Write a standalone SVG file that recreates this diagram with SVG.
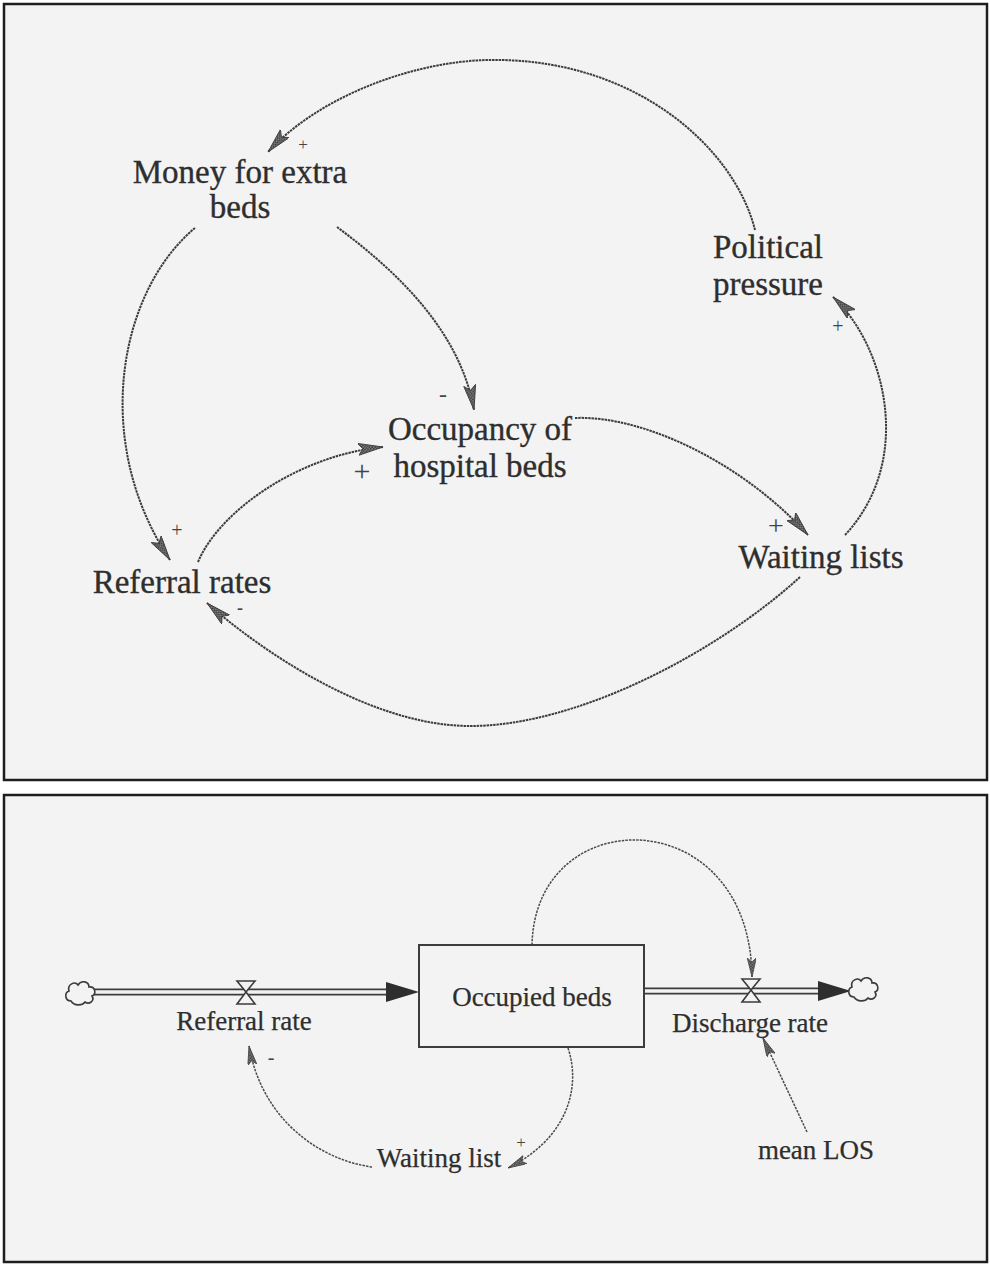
<svg xmlns="http://www.w3.org/2000/svg" width="990" height="1264" viewBox="0 0 990 1264">
  <style>
    .panel { fill: #f3f3f3; stroke: #1e1e1e; stroke-width: 2.5; }
    .lbl { font-family: "Liberation Serif", "Times New Roman", serif; fill: #2e2e2e; stroke: #2e2e2e; stroke-width: 0.35; text-anchor: middle; }
    .big { font-size: 33px; }
    .small { font-size: 27px; stroke-width: 0.25; }
    .sign { font-family: "Liberation Serif", "Times New Roman", serif; fill: #444; text-anchor: middle; }
    .link { fill: none; stroke: #3c3c3c; stroke-width: 2; stroke-dasharray: 2.5 0.8; }
    .link-thin { fill: none; stroke: #4a4a4a; stroke-width: 1.5; stroke-dasharray: 2.5 1.1; }
    .pipe-out { fill: none; stroke: #3c3c3c; stroke-width: 7; }
    .pipe-in { fill: none; stroke: #f3f3f3; stroke-width: 3.4; }
    .valve { fill: #f3f3f3; stroke: #3c3c3c; stroke-width: 1.6; }
    .cloud { fill: #f3f3f3; stroke: #3c3c3c; stroke-width: 1.6; }
    .stock { fill: #f3f3f3; stroke: #3c3c3c; stroke-width: 2; }
  </style>
  <defs>
    <pattern id="hatch" width="3" height="3" patternUnits="userSpaceOnUse">
      <rect width="3" height="3" fill="#8a8a8a"/>
      <rect width="1.5" height="1.5" fill="#333"/>
      <rect x="1.5" y="1.5" width="1.5" height="1.5" fill="#333"/>
    </pattern>
    <!-- causal-link arrowhead -->
    <marker id="tip" markerUnits="userSpaceOnUse" markerWidth="28" markerHeight="14" refX="25" refY="6" orient="auto">
      <path d="M0,0 L25,6 L0,12 L5,6 z" fill="url(#hatch)" stroke="#3c3c3c" stroke-width="0.9"/>
    </marker>
    <marker id="tipS" markerUnits="userSpaceOnUse" markerWidth="22" markerHeight="11" refX="19" refY="4.5" orient="auto">
      <path d="M0,0 L19,4.5 L0,9 L4,4.5 z" fill="url(#hatch)" stroke="#444" stroke-width="0.8"/>
    </marker>
    <!-- source / sink cloud -->
    <path id="cloudShape" d="M-10,8 C-16,8 -17,0 -12,-2 C-14,-9 -6,-12 -3,-8 C0,-13 8,-12 8,-6 C14,-7 16,1 11,3 C14,8 8,12 4,9 C1,13 -7,13 -10,8 z"/>
  </defs>

  <rect width="990" height="1264" fill="#ffffff"/>

  <!-- causal loop diagram -->
  <rect class="panel" x="4" y="4" width="983" height="776"/>

  <g id="connectors-loop">
    <path class="link" marker-end="url(#tip)" d="M755,230 C735,150 640,62 500,60 C420,58 320,95 268,152"/>
    <path class="link" marker-end="url(#tip)" d="M195,228 C120,290 90,440 170,560"/>
    <path class="link" marker-end="url(#tip)" d="M337,227 C395,270 460,330 474,410"/>
    <path class="link" marker-end="url(#tip)" d="M198,562 C220,510 300,455 383,447"/>
    <path class="link" marker-end="url(#tip)" d="M575,418 C640,415 740,460 808,535"/>
    <path class="link" marker-end="url(#tip)" d="M845,535 C915,460 885,345 833,297"/>
    <path class="link" marker-end="url(#tip)" d="M800,577 C720,650 580,726 470,726 C370,726 260,650 207,603"/>
    <text class="sign" x="303" y="150" font-size="17">+</text>
    <text class="sign" x="177" y="537" font-size="20">+</text>
    <text class="sign" x="443" y="402" font-size="24">-</text>
    <text class="sign" x="362" y="481" font-size="30">+</text>
    <text class="sign" x="776" y="535" font-size="28">+</text>
    <text class="sign" x="838" y="333" font-size="20">+</text>
    <text class="sign" x="240" y="614" font-size="18" font-weight="bold">-</text>
  </g>

  <g id="money-for-extra-beds">
    <text class="lbl big" x="240" y="183">Money for extra</text>
    <text class="lbl big" x="240" y="218">beds</text>
  </g>
  <g id="political-pressure">
    <text class="lbl big" x="768" y="258">Political</text>
    <text class="lbl big" x="768" y="295">pressure</text>
  </g>
  <g id="occupancy-of-hospital-beds">
    <text class="lbl big" x="480" y="440">Occupancy of</text>
    <text class="lbl big" x="480" y="477">hospital beds</text>
  </g>
  <g id="referral-rates">
    <text class="lbl big" x="182" y="593">Referral rates</text>
  </g>
  <g id="waiting-lists">
    <text class="lbl big" x="821" y="568">Waiting lists</text>
  </g>

  <!-- stock and flow diagram -->
  <rect class="panel" x="4" y="795" width="983" height="467"/>

  <g id="connectors-flow">
    <!-- inflow pipe -->
    <path class="pipe-out" d="M94,992 H392"/>
    <path class="pipe-in" d="M94,992 H392"/>
    <polygon points="386,982 419,992 386,1002" fill="#2e2e2e"/>
    <!-- outflow pipe -->
    <path class="pipe-out" d="M644,991 H824"/>
    <path class="pipe-in" d="M644,991 H824"/>
    <polygon points="818,981 851,991 818,1001" fill="#2e2e2e"/>
    <!-- information links -->
    <path class="link-thin" marker-end="url(#tipS)" d="M532,945 C535,800 750,800 752,977"/>
    <path class="link-thin" marker-end="url(#tipS)" d="M568,1048 C582,1090 565,1140 508,1168"/>
    <path class="link-thin" marker-end="url(#tipS)" d="M372,1167 C320,1160 262,1120 249,1046"/>
    <path class="link-thin" marker-end="url(#tipS)" d="M807,1132 Q785,1085 763,1038"/>
    <text class="sign" x="521" y="1148" font-size="17">+</text>
    <text class="sign" x="271" y="1064" font-size="20">-</text>
  </g>

  <g id="source-cloud">
    <use href="#cloudShape" class="cloud" transform="translate(81,993)"/>
  </g>
  <g id="sink-cloud">
    <use href="#cloudShape" class="cloud" transform="translate(864,989)"/>
  </g>

  <g id="referral-rate">
    <polygon class="valve" points="237,981 255,981 246,992 255,1004 237,1004 246,992"/>
    <text class="lbl small" x="244" y="1030">Referral rate</text>
  </g>
  <g id="occupied-beds">
    <rect class="stock" x="419" y="945" width="225" height="102"/>
    <text class="lbl small" x="532" y="1006">Occupied beds</text>
  </g>
  <g id="discharge-rate">
    <polygon class="valve" points="742,979 760,979 751,990 760,1002 742,1002 751,990"/>
    <text class="lbl small" x="750" y="1032">Discharge rate</text>
  </g>
  <g id="waiting-list">
    <text class="lbl small" x="439" y="1167">Waiting list</text>
  </g>
  <g id="mean-los">
    <text class="lbl small" x="816" y="1159">mean LOS</text>
  </g>
</svg>
